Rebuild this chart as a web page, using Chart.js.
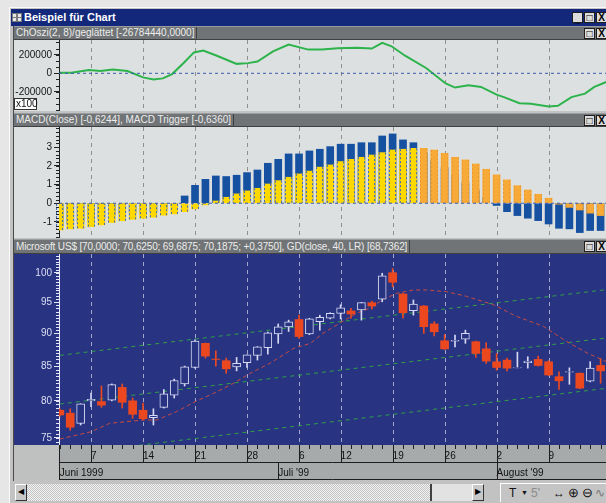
<!DOCTYPE html>
<html><head><meta charset="utf-8">
<script src="https://cdn.jsdelivr.net/npm/chart.js@4.4.1/dist/chart.umd.min.js"></script>
<style>
html,body{margin:0;padding:0}
body{width:606px;height:503px;overflow:hidden;position:relative;background:#e6e6e6;font-family:"Liberation Sans",Arial,sans-serif}
.a{position:absolute;box-sizing:border-box}
#frame{left:9px;top:7px;width:597px;height:496px;background:#c2c2c2;border-left:1px solid #fafafa;border-top:1px solid #fafafa}
#title{left:11px;top:9px;width:595px;height:17px;background:#13287a;color:#fff;font-weight:bold;font-size:11px;line-height:17px;padding-left:13px;white-space:nowrap}
#icon{left:12px;top:13px;width:9px;height:8px}
#icon i{position:absolute;width:3px;height:3px;background:#e8e8e8;border:1px solid #7a7a7a}
.hdr{left:14px;width:592px;background:#707476;color:#ececec;font-size:10px;white-space:nowrap;border-top:1px solid #9a9d9f;border-bottom:1px solid #3e4042}
.hdr span{position:absolute;left:0;top:0;bottom:0;padding-left:2px;padding-right:2px;border-right:1px solid #3e4042}
.btn{width:11px;height:11px;background:#dcdcdc;border:1px solid #1e1e1e;color:#000;font-size:10px;line-height:9px;text-align:center;font-weight:bold}
canvas{position:absolute}
#vline{left:13px;top:26px;width:1px;height:455px;background:#4a4a4a}
.sb{top:484px;height:17px}
</style></head>
<body>
<div class="a" id="frame"></div>
<div class="a" id="title">Beispiel für Chart</div>
<div class="a" id="icon"><i style="left:0;top:0"></i><i style="left:5px;top:0"></i><i style="left:0;top:4px"></i><i style="left:5px;top:4px"></i></div>
<div class="a btn" style="left:572px;top:12px;line-height:12px">_</div>
<div class="a btn" style="left:584px;top:12px">□</div>
<div class="a btn" style="left:596px;top:12px">X</div>

<div class="a" id="vline"></div>

<div class="a hdr" style="top:26px;height:14px;line-height:12px"><span>ChOszi(2, 8)/geglättet [-26784440,0000]</span></div>
<div class="a btn" style="left:584px;top:28px">□</div>
<div class="a btn" style="left:596px;top:28px">X</div>
<canvas id="c1" width="592" height="71" style="left:14px;top:40px;background:#dde0e0"></canvas>
<div class="a" style="left:14px;top:98px;width:23px;height:12px;background:#fff;border:1px solid #333;font-size:10px;line-height:10px;padding-left:1px;color:#111">x100</div>

<div class="a hdr" style="top:113px;height:14px;line-height:12px"><span>MACD(Close) [-0,6244], MACD Trigger [-0,6360]</span></div>
<div class="a btn" style="left:584px;top:115px">□</div>
<div class="a btn" style="left:596px;top:115px">X</div>
<canvas id="c2" width="592" height="111" style="left:14px;top:127px;background:#dde0e0"></canvas>

<div class="a hdr" style="top:239px;height:15px;line-height:13px"><span style="letter-spacing:-0.15px">Microsoft US$ [70,0000; 70,6250; 69,6875; 70,1875; +0,3750], GD(close, 40, LR) [68,7362]</span></div>
<div class="a btn" style="left:584px;top:241px">□</div>
<div class="a btn" style="left:596px;top:241px">X</div>
<canvas id="c3" width="592" height="226" style="left:14px;top:254px"></canvas>

<div class="a sb" style="left:15px;width:12px;background:#c8c8c8;border:1px solid;border-color:#fff #333 #333 #fff;font-size:8px;line-height:14px;text-align:center">◀</div>
<div class="a sb" style="left:27px;width:403px;background:repeating-conic-gradient(#c4c4c4 0 25%,#f2f2f2 0 50%) 0 0/2px 2px"></div>
<div class="a sb" style="left:430px;width:42px;background:#e2e2e2;border-left:2px solid #404040"></div>
<div class="a sb" style="left:472px;width:12px;background:#c8c8c8;border:1px solid;border-color:#fff #333 #333 #fff;font-size:8px;line-height:14px;text-align:center">▶</div>
<div class="a" style="left:500px;top:483px;width:106px;height:19px;background:#c4c4c4;border-left:1px solid #fff;border-top:1px solid #fff;font-size:12px;line-height:18px;white-space:nowrap;color:#111">
<span style="position:absolute;left:8px">T</span><span style="position:absolute;left:20px;font-size:7px">▼</span><span style="position:absolute;left:30px;color:#8c8c8c">5'</span><span style="position:absolute;left:52px;font-weight:bold">↔</span><span style="position:absolute;left:67px;font-size:13px">⊕</span><span style="position:absolute;left:81px;font-size:13px">⊖</span><span style="position:absolute;left:94px;color:#777">∿</span></div>

<script>
// ---------- data ----------
const mondayIdx = [3, 8, 13, 18, 23, 27, 32, 37, 42, 47];
const mondayLabels = ['7', '14', '21', '28', '6', '12', '19', '26', '2', '9'];
const monthIdx = [0, 21, 42];
const monthLabels = ['Juni 1999', "Juli '99", "August '99"];
const priceTicks = [75, 80, 85, 90, 95, 100];
const macdTicks = [-1, 0, 1, 2, 3];
const oscTicks = [-200000, 0, 200000];

const openP  = [78.7,78.3,76.9,80.0,79.9,80.1,81.9,80.0,78.7,77.7,79.1,80.8,82.4,84.8,88.45,86.05,85.8,84.9,85.5,86.6,87.8,89.9,91.0,92.2,89.9,91.85,92.4,93.2,93.6,93.75,94.95,95.55,100.05,96.4,93.65,94.4,91.5,88.85,88.8,89.1,88.7,87.6,85.65,85.9,84.75,85.5,86.0,85.65,83.45,84.1,83.95,82.8,85.1];
const highP  = [78.9,78.9,79.6,81.1,82.1,82.4,82.4,80.4,79.7,78.9,81.6,83.1,85.0,89.0,88.5,87.3,86.2,86.3,86.7,87.95,90.2,91.5,92.1,92.9,92.4,92.9,93.3,94.6,94.0,95.0,95.2,99.95,100.8,96.5,95.4,94.5,91.85,89.8,89.75,90.5,88.8,88.55,86.9,86.2,87.1,86.4,86.5,85.8,84.15,84.75,84.0,85.65,86.15];
const lowP   = [77.9,76.0,76.7,79.2,79.1,80.0,79.0,77.6,77.4,76.7,79.0,80.4,82.1,84.7,86.2,85.0,83.95,84.3,84.8,85.9,86.8,88.45,90.3,89.2,89.8,90.5,92.3,92.3,92.4,92.1,93.9,95.1,97.6,92.4,92.9,90.0,89.6,87.5,87.9,88.45,86.3,85.4,84.4,84.3,84.75,84.7,85.0,83.6,81.6,82.35,81.7,82.7,82.5];
const closeP = [78.05,76.4,79.6,80.2,79.4,82.3,79.8,78.15,77.55,78.0,81.0,82.9,84.9,88.8,86.5,86.0,84.6,85.4,86.7,87.9,90.1,91.05,91.85,89.5,92.3,92.55,93.2,94.1,93.1,94.95,94.4,99.5,98.4,93.3,94.7,91.05,90.25,87.6,88.9,90.0,86.9,85.75,84.8,84.7,84.8,85.75,85.1,83.7,82.85,84.2,81.8,84.7,84.3];

const maX = [0,3,4.8,8,9.3,11.2,13,14.8,16.7,18.3,20.2,22.5,24.1,25.3,26.9,28.5,29.8,31.1,32.4,34,35.3,37.2,39.1,41.7,43.9,46.5,48.7,50.7,52.5];
const maY = [74.85,75.8,76.93,77.37,77.37,78.5,79.88,81.06,82.49,83.94,85.42,87.69,88.45,90.0,91.6,93.2,94.03,95.51,96.52,97.08,97.08,96.79,96.01,94.62,92.72,91.12,88.76,86.97,85.72];

const chanX = [0, 52.52];
const chanUpper = [86.62, 97.13];
const chanMid = [79.56, 89.27];
const chanLower = [72.79, 81.77];

const macdVals = [-1.20,-1.10,-1.00,-0.90,-0.80,-0.65,-0.55,-0.50,-0.50,-0.45,-0.30,-0.10,0.39,0.96,1.28,1.46,1.43,1.50,1.64,1.78,2.14,2.35,2.64,2.64,2.80,2.89,3.03,3.16,3.16,3.24,3.24,3.60,3.71,3.39,3.24,2.70,2.30,1.90,1.50,1.10,0.70,0.30,-0.12,-0.45,-0.66,-0.80,-0.93,-1.11,-1.34,-1.37,-1.57,-1.46,-1.46];
const triggerVals = [-1.43,-1.37,-1.34,-1.25,-1.16,-1.03,-0.94,-0.86,-0.80,-0.75,-0.64,-0.57,-0.45,-0.30,-0.09,0.12,0.32,0.50,0.66,0.80,1.03,1.21,1.39,1.57,1.72,1.93,2.05,2.23,2.35,2.46,2.58,2.71,2.85,2.89,2.94,2.94,2.85,2.67,2.46,2.32,2.10,1.82,1.52,1.25,0.94,0.71,0.48,0.27,-0.05,-0.22,-0.36,-0.53,-0.66];

const oscX = [0,1.1,2.8,3.9,5.1,6.5,8,9,9.9,10.8,11.95,12.9,13.8,15.1,17,18.1,19,20.5,22,23.9,25.2,26.7,28.5,30,31,31.9,33.2,35.25,37.1,38,39.3,40.5,42,42.7,44.2,45.3,47,47.9,49.2,50.5,51.4,52.6];
const oscY = [5000,5000,36000,25000,40000,25000,-44000,-66000,-55000,-8000,116000,226000,245000,190000,102000,110000,127000,237000,311000,256000,256000,270000,275000,267000,330000,292000,190000,55000,-110000,-154000,-129000,-147000,-231000,-257000,-323000,-330000,-359000,-352000,-257000,-220000,-147000,-92000];

// ---------- styling ----------
const X_MIN = -0.08, X_MAX = 52.52;
const NAVY = '#283482', RED = '#ec4820', HOLLOW = '#d6d8f4';
const FONT = '"Liberation Sans", Arial, sans-serif';
Chart.defaults.font.family = FONT;
Chart.defaults.font.size = 10;
Chart.defaults.animation = false;
Chart.defaults.plugins.legend.display = false;
Chart.defaults.plugins.tooltip.enabled = false;

const fitY = s => { s.width = 45; s.paddingTop = 0; s.paddingBottom = 0; };
const fitX = h => s => { s.height = h; s.paddingLeft = 0; s.paddingRight = 0; };

const vGrid = {
  id: 'vGrid',
  beforeDatasetsDraw(chart, args, o) {
    const x = chart.scales.x, ca = chart.chartArea, ctx = chart.ctx;
    ctx.save(); ctx.strokeStyle = o.color; ctx.lineWidth = 1; ctx.setLineDash([4, 4]);
    for (const v of mondayIdx) {
      const px = Math.round(x.getPixelForValue(v)) + 0.5;
      ctx.beginPath(); ctx.moveTo(px, ca.top); ctx.lineTo(px, ca.bottom); ctx.stroke();
    }
    ctx.restore();
  }
};
const minorTicks = {
  id: 'minorTicks',
  afterDraw(chart, args, o) {
    const s = chart.scales.y, ca = chart.chartArea, ctx = chart.ctx;
    ctx.save(); ctx.strokeStyle = o.color; ctx.lineWidth = 1;
    for (let v = o.from; v <= o.to + 1e-9; v += o.step) {
      const py = Math.round(s.getPixelForValue(v)) + 0.5;
      if (py < ca.top || py > ca.bottom) continue;
      ctx.beginPath(); ctx.moveTo(ca.left - o.len, py); ctx.lineTo(ca.left, py); ctx.stroke();
    }
    ctx.restore();
  }
};
const dashedEdges = {
  id: 'dashedEdges',
  afterDatasetsDraw(chart, args, o) {
    const meta = chart.getDatasetMeta(o.index), ctx = chart.ctx;
    ctx.save(); ctx.setLineDash([2, 2]); ctx.lineWidth = 1;
    meta.data.forEach((el, i) => {
      const p = el.getProps(['x', 'y', 'base', 'width'], true);
      const l = Math.round(p.x - p.width / 2) + 0.5, r = Math.round(p.x + p.width / 2) - 0.5;
      ctx.strokeStyle = o.colors[i];
      ctx.beginPath(); ctx.moveTo(l, p.y); ctx.lineTo(l, p.base); ctx.moveTo(r, p.y); ctx.lineTo(r, p.base); ctx.stroke();
    });
    ctx.restore();
  }
};
const axisBand = {
  id: 'axisBand',
  beforeDraw(chart) {
    const ctx = chart.ctx, ca = chart.chartArea, W = chart.width, H = chart.height;
    ctx.save();
    ctx.fillStyle = NAVY; ctx.fillRect(0, 0, W, ca.bottom);
    ctx.fillStyle = '#bfc1c1'; ctx.fillRect(0, ca.bottom, ca.left, H - ca.bottom);
    ctx.fillStyle = '#a7aaaa'; ctx.fillRect(ca.left, ca.bottom, W - ca.left, H - ca.bottom);
    ctx.restore();
  },
  afterDraw(chart) {
    const ctx = chart.ctx, ca = chart.chartArea, W = chart.width;
    const x = chart.scales.x, x2 = chart.scales.x2;
    ctx.save(); ctx.strokeStyle = '#1e1e1e'; ctx.lineWidth = 1;
    const hl = (y) => { ctx.beginPath(); ctx.moveTo(ca.left, y); ctx.lineTo(W, y); ctx.stroke(); };
    const vl = (px, y1, y2) => { ctx.beginPath(); ctx.moveTo(px, y1); ctx.lineTo(px, y2); ctx.stroke(); };
    hl(Math.round(x.bottom) - 0.5); hl(Math.round(x2.bottom) - 0.5);
    vl(Math.round(ca.left) + 0.5, ca.bottom, x2.bottom);
    for (let i = 0; i < highP.length; i++) {
      const px = Math.round(x.getPixelForValue(i)) + 0.5;
      if (px > W) break;
      vl(px, ca.bottom, ca.bottom + 4);
    }
    for (const v of mondayIdx) vl(Math.round(x.getPixelForValue(v)) + 0.5, ca.bottom, x.bottom);
    for (const v of monthIdx.slice(1)) vl(Math.round(x2.getPixelForValue(v)) + 0.5, x2.top, x2.bottom);
    ctx.restore();
  }
};

const xHidden = { type: 'linear', min: X_MIN, max: X_MAX, display: false, offset: false, grid: { offset: false } };

// ---------- chart 1: ChOszi ----------
new Chart(document.getElementById('c1'), {
  type: 'line',
  data: { datasets: [
    { label: 'Null', data: [{x: X_MIN, y: 0}, {x: X_MAX, y: 0}], borderColor: '#3a5cb0', borderWidth: 1, borderDash: [3, 3], pointRadius: 0, order: 0 },
    { label: 'ChOszi(2, 8)/geglättet', data: oscX.map((x, k) => ({x, y: oscY[k]})), borderColor: '#2cb34c', borderWidth: 2, pointRadius: 0, tension: 0, order: 1 }
  ]},
  options: {
    responsive: false, devicePixelRatio: 1, layout: { padding: 0 },
    scales: {
      x: xHidden,
      y: { type: 'linear', min: -407600, max: 360000, position: 'left',
        afterBuildTicks: s => { s.ticks = oscTicks.map(v => ({value: v})); },
        afterFit: fitY,
        ticks: { color: '#151515', padding: 2, autoSkip: false, callback: v => String(v), font: { size: 10 } },
        grid: { drawOnChartArea: false, tickLength: 5, tickColor: '#222' },
        border: { color: '#222' } }
    },
    plugins: { vGrid: { color: '#8e9090' }, minorTicks: { from: -400000, to: 360000, step: 200000 / 3, len: 3, color: '#222' } }
  },
  plugins: [vGrid, minorTicks]
});

// ---------- chart 2: MACD ----------
const trigColors = triggerVals.map((t, i) => macdVals[i] >= t ? '#ffd800' : '#f8aa38');
const trigEdge = triggerVals.map((t, i) => macdVals[i] >= t ? '#4468b8' : '#e89a30');
new Chart(document.getElementById('c2'), {
  type: 'bar',
  data: { datasets: [
    { type: 'line', label: 'Null', data: [{x: X_MIN, y: 0}, {x: X_MAX, y: 0}], borderColor: '#3a5cb0', borderWidth: 1, borderDash: [3, 3], pointRadius: 0, order: -1 },
    { label: 'MACD Trigger', data: triggerVals.map((v, i) => ({x: i, y: v})), backgroundColor: trigColors, barThickness: 7, grouped: false, order: 0 },
    { label: 'MACD(Close)', data: macdVals.map((v, i) => ({x: i, y: v})), backgroundColor: '#1650a0', barThickness: 7, grouped: false, order: 1 }
  ]},
  options: {
    responsive: false, devicePixelRatio: 1, layout: { padding: 0 },
    scales: {
      x: xHidden,
      y: { type: 'linear', min: -1.86, max: 4.08, position: 'left',
        afterBuildTicks: s => { s.ticks = macdTicks.map(v => ({value: v})); },
        afterFit: fitY,
        ticks: { color: '#151515', padding: 2, autoSkip: false, callback: v => String(v), font: { size: 10 } },
        grid: { drawOnChartArea: false, tickLength: 5, tickColor: '#222' },
        border: { color: '#222' } }
    },
    plugins: { vGrid: { color: '#8e9090' }, minorTicks: { from: -1.8, to: 4.0, step: 0.2, len: 3, color: '#222' }, dashedEdges: { index: 1, colors: trigEdge } }
  },
  plugins: [vGrid, minorTicks, dashedEdges]
});

// ---------- chart 3: Microsoft US$ ----------
const down = closeP.map((c, i) => c < openP[i]);
new Chart(document.getElementById('c3'), {
  type: 'bar',
  data: { datasets: [
    { label: 'Kerzen', xAxisID: 'x', data: closeP.map((c, i) => ({x: i, y: [openP[i], c]})),
      backgroundColor: down.map(d => d ? RED : NAVY), borderColor: down.map(d => d ? RED : HOLLOW),
      borderWidth: down.map(d => d ? 0 : 1), borderSkipped: false, barThickness: 8, grouped: false, order: 0 },
    { label: 'Dochte', xAxisID: 'x', data: highP.map((h, i) => ({x: i, y: [lowP[i], h]})),
      backgroundColor: down.map(d => d ? RED : HOLLOW), barThickness: 1, grouped: false, order: 1 },
    { type: 'line', label: 'GD(close, 40, LR)', xAxisID: 'x', data: maX.map((x, k) => ({x, y: maY[k]})), borderColor: '#c84a40', borderWidth: 1, borderDash: [4, 3], pointRadius: 0, order: 2 },
    { type: 'line', label: 'Kanal oben', xAxisID: 'x', data: chanX.map((x, k) => ({x, y: chanUpper[k]})), borderColor: '#2ea048', borderWidth: 1, borderDash: [4, 4], pointRadius: 0, order: 2 },
    { type: 'line', label: 'Kanal Mitte', xAxisID: 'x', data: chanX.map((x, k) => ({x, y: chanMid[k]})), borderColor: '#2ea048', borderWidth: 1, borderDash: [4, 4], pointRadius: 0, order: 2 },
    { type: 'line', label: 'Kanal unten', xAxisID: 'x', data: chanX.map((x, k) => ({x, y: chanLower[k]})), borderColor: '#2ea048', borderWidth: 1, borderDash: [4, 4], pointRadius: 0, order: 2 }
  ]},
  options: {
    responsive: false, devicePixelRatio: 1, layout: { padding: 0 },
    scales: {
      x: { type: 'linear', min: X_MIN, max: X_MAX, position: 'bottom', offset: false,
        afterBuildTicks: s => { s.ticks = mondayIdx.map(v => ({value: v})); },
        afterFit: fitX(18),
        ticks: { autoSkip: false, maxRotation: 0, align: 'start', padding: 5, color: '#111', font: { size: 10 },
          callback: v => mondayLabels[mondayIdx.indexOf(v)] },
        grid: { display: false, drawTicks: false, offset: false }, border: { display: false } },
      x2: { type: 'linear', min: X_MIN, max: X_MAX, position: 'bottom', offset: false,
        afterBuildTicks: s => { s.ticks = monthIdx.map(v => ({value: v})); },
        afterFit: fitX(17),
        ticks: { autoSkip: false, maxRotation: 0, align: 'start', padding: 4, color: '#111', font: { size: 10 },
          callback: v => monthLabels[monthIdx.indexOf(v)] },
        grid: { display: false, drawTicks: false, offset: false }, border: { display: false } },
      y: { type: 'logarithmic', min: 74.07, max: 103.37, position: 'left',
        afterBuildTicks: s => { s.ticks = priceTicks.map(v => ({value: v})); },
        afterFit: fitY,
        ticks: { color: '#dcdff2', padding: 2, autoSkip: false, callback: v => String(v), font: { size: 10 } },
        grid: { drawOnChartArea: false, tickLength: 5, tickColor: '#e6e8f8' },
        border: { color: '#e6e8f8' } }
    },
    plugins: { vGrid: { color: '#a2a6cc' }, minorTicks: { from: 74.5, to: 103, step: 0.5, len: 3, color: '#e6e8f8' } }
  },
  plugins: [axisBand, vGrid, minorTicks]
});
</script>
</body></html>
